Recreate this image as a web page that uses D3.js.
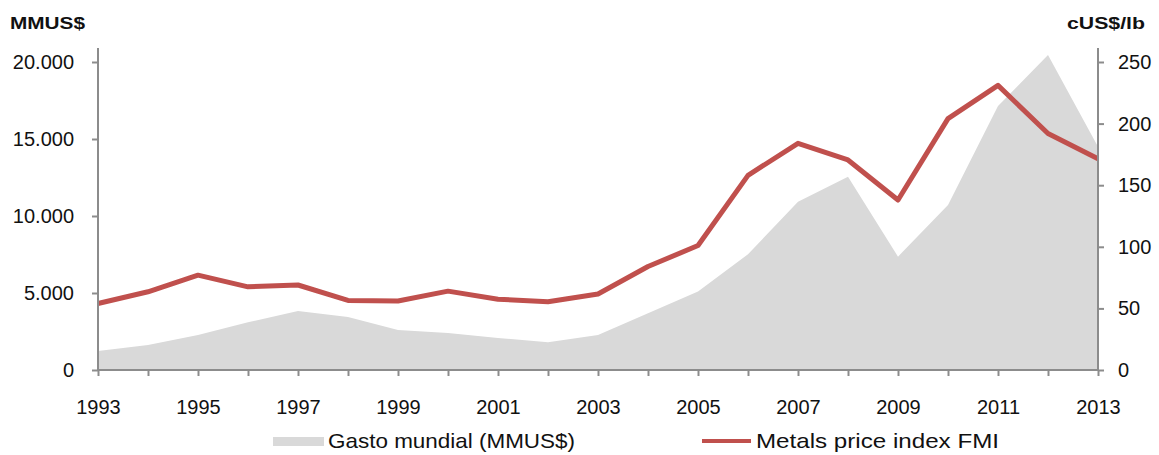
<!DOCTYPE html>
<meta charset="utf-8">
<html>
<head>
<title>Gasto mundial vs metals price index</title>
<style>
  body { margin: 0; background: #fff; }
  text { font-family: "Liberation Sans", Arial, sans-serif; fill: #111; }
</style>
</head>
<body>
<div id="viz"></div>
<script src="https://cdnjs.cloudflare.com/ajax/libs/d3/7.8.5/d3.min.js"></script>
<script>
// data
var years = [1993, 1994, 1995, 1996, 1997, 1998, 1999, 2000, 2001, 2002, 2003,
             2004, 2005, 2006, 2007, 2008, 2009, 2010, 2011, 2012, 2013];
var gasto = [1230, 1620, 2270, 3100, 3830, 3440, 2600, 2400, 2080, 1800, 2270,
             3680, 5090, 7510, 10930, 12550, 7360, 10710, 17140, 20450, 14500];
var metals = [54, 63.5, 77, 67.5, 69, 56.5, 56, 64, 57.5, 55.4, 61.7,
              84, 101, 158, 184, 170.5, 138, 204, 231, 192, 171.5];
var leftTicks = [0, 5000, 10000, 15000, 20000];
var rightTicks = [0, 50, 100, 150, 200, 250];
var xLabelYears = [1993, 1995, 1997, 1999, 2001, 2003, 2005, 2007, 2009, 2011, 2013];

var W = 1159, H = 455;
var svg = d3.select("#viz").append("svg").attr("width", W).attr("height", H);

var x = d3.scaleLinear().domain([1993, 2013]).range([98, 1098]);
var yL = d3.scaleLinear().domain([0, 20000]).range([370, 62]);
var yR = d3.scaleLinear().domain([0, 250]).range([370, 62]);

var fmt = function (d) { return d3.format(",")(d).replace(/,/g, "."); };

// area
var area = d3.area()
    .x(function (d, i) { return x(years[i]); })
    .y0(yL(0))
    .y1(function (d) { return yL(d); });
svg.append("path").datum(gasto).attr("d", area).attr("fill", "#d9d9d9");

// line
var line = d3.line()
    .x(function (d, i) { return x(years[i]); })
    .y(function (d) { return yR(d); });
svg.append("path").datum(metals).attr("d", line)
    .attr("fill", "none").attr("stroke", "#c0504d")
    .attr("stroke-width", 5).attr("stroke-linejoin", "round");

var axisColor = "#8c8c8c";

var gl = svg.append("g").attr("transform", "translate(98,0)")
    .call(d3.axisLeft(yL).tickValues(leftTicks).tickFormat(fmt).tickSize(6).tickPadding(18));
var gr = svg.append("g").attr("transform", "translate(1098,0)")
    .call(d3.axisRight(yR).tickValues(rightTicks).tickSize(6).tickPadding(14));
var gb = svg.append("g").attr("transform", "translate(0,370)")
    .call(d3.axisBottom(x).tickValues(years).tickFormat(function (d) {
        return xLabelYears.indexOf(d) >= 0 ? d : "";
    }).tickSize(6).tickPadding(24));

[gl, gr, gb].forEach(function (g) {
    g.select(".domain").remove();
    g.selectAll(".tick line").attr("stroke", axisColor).attr("stroke-width", 2);
    g.selectAll("text").style("font-size", "20px").attr("fill", "#111")
        .style("font-family", "'Liberation Sans', Arial, sans-serif");
});

// axis lines, running a bit above the top tick
svg.append("line").attr("x1", 98).attr("x2", 98).attr("y1", 48).attr("y2", 370)
    .attr("stroke", axisColor).attr("stroke-width", 2);
svg.append("line").attr("x1", 1098).attr("x2", 1098).attr("y1", 48).attr("y2", 370)
    .attr("stroke", axisColor).attr("stroke-width", 2);
svg.append("line").attr("x1", 98).attr("x2", 1098).attr("y1", 370).attr("y2", 370)
    .attr("stroke", axisColor).attr("stroke-width", 2);

// unit labels
svg.append("text").attr("x", 10).attr("y", 29).text("MMUS$")
    .attr("textLength", 75).attr("lengthAdjust", "spacingAndGlyphs")
    .style("font-size", "17px").style("font-weight", "bold");
svg.append("text").attr("x", 1067).attr("y", 29).text("cUS$/lb")
    .attr("textLength", 78).attr("lengthAdjust", "spacingAndGlyphs")
    .style("font-size", "17px").style("font-weight", "bold");

// legend
var leg = svg.append("g");
leg.append("rect").attr("x", 273).attr("y", 437).attr("width", 51).attr("height", 9).attr("fill", "#d9d9d9");
leg.append("text").attr("x", 328).attr("y", 448).text("Gasto mundial (MMUS$)")
    .attr("textLength", 247).attr("lengthAdjust", "spacingAndGlyphs").style("font-size", "21px");
leg.append("line").attr("x1", 702).attr("x2", 751).attr("y1", 441).attr("y2", 441)
    .attr("stroke", "#c0504d").attr("stroke-width", 4);
leg.append("text").attr("x", 756).attr("y", 448).text("Metals price index FMI")
    .attr("textLength", 243).attr("lengthAdjust", "spacingAndGlyphs").style("font-size", "21px");
</script>
</body>
</html>
